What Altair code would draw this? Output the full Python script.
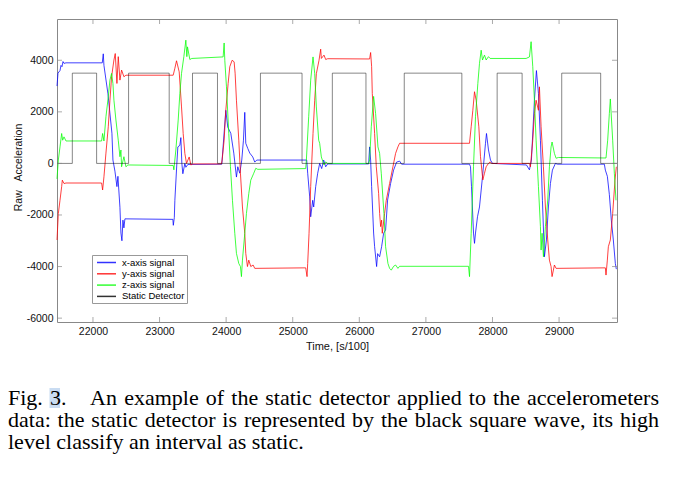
import altair as alt
import pandas as pd

# ---------------- data ----------------
SERIES = ["x-axis signal", "y-axis signal", "z-axis signal", "Static Detector"]
COLORS = ["#0000ff", "#ff0000", "#00ff00", "#000000"]

x_signal = [(21460, 3000), (21475, 3500), (21505, 3600), (21520, 3800), (21535, 3750), (21550, 3950),
            (21565, 3880), (21595, 3900), (22140, 3900), (22155, 4250), (22165, 3800), (22225, 2700),
            (22285, 1170), (22300, 130), (22330, -300), (22360, -900), (22375, -500), (22405, -1700),
            (22420, -2700), (22435, -3000), (22450, -2200), (22465, -2500), (22480, -2150), (23200, -2170),
            (23207, -2400), (23222, -2100), (23230, -1430), (23260, 0), (23275, 640), (23305, 700),
            (23320, 1000), (23335, 0), (23350, -400), (23380, 0), (23395, -150), (23425, -40),
            (23935, -30), (23995, 2060), (24025, 1400), (24070, 1170), (24115, 400), (24155, -530),
            (24175, -130), (24205, -380), (24235, 130), (24260, 900), (24280, 1980), (24295, 780),
            (24325, 580), (24355, 400), (24400, 250), (24430, 50), (24460, 130), (25210, 130),
            (25225, -380), (25255, -1300), (25270, -2070), (25300, -1430), (25315, -1690), (25345, -900),
            (25375, -380), (25405, 0), (25435, -200), (25465, 130), (25495, -130), (25525, -20),
            (26140, -20), (26155, 640), (26170, 130), (26185, -900), (26215, -2700), (26230, -3230),
            (26260, -4000), (26275, -3500), (26305, -3620), (26335, -3230), (26365, -2710), (26395, -2580),
            (26425, -1420), (26470, -780), (26515, -260), (26560, 50), (26605, 90), (26635, -30),
            (27655, -30), (27670, -130), (27685, -900), (27715, -2700), (27730, -3100), (27745, -2700),
            (27775, -2070), (27805, -1690), (27850, -520), (27895, 780), (27910, 1160), (27940, 520),
            (27970, 130), (28000, 0), (28510, -60), (28555, -250), (28585, 130), (28630, 2450),
            (28660, 3600), (28690, 2720), (28720, 900), (28750, -1430), (28780, -3620), (28810, -2970),
            (28840, -1690), (28870, -780), (28900, -260), (28945, 0), (28975, -30), (29680, -30),
            (29695, -260), (29725, -500), (29755, -1200), (29785, -2200), (29815, -2970), (29845, -3880),
            (29860, -4100)]

y_signal = [(21460, -2970), (21480, -1940), (21505, -1430), (21530, -900), (21540, -650), (21565, -780),
            (21595, -760), (22130, -760), (22145, -1030), (22165, -520), (22195, 400), (22230, 1420),
            (22255, 2450), (22280, 3360), (22315, 4010), (22335, 4260), (22360, 3100), (22380, 4140),
            (22405, 3230), (22430, 3620), (22465, 3360), (22495, 3420), (23205, 3420), (23230, 3690),
            (23255, 3980), (23295, 3550), (23330, 2190), (23355, 1160), (23380, 390), (23405, 0),
            (23445, 250), (23470, -60), (23500, -20), (23930, -20), (23940, 130), (23970, 900),
            (23995, 2060), (24030, 3100), (24055, 3750), (24090, 4000), (24120, 3940), (24135, 3500),
            (24155, 2450), (24190, 900), (24215, -380), (24245, -1690), (24280, -2710), (24295, -3490),
            (24320, -4000), (24340, -3750), (24370, -4000), (24405, -3940), (24430, -4070), (25195, -4050),
            (25215, -4390), (25225, -3880), (25245, -2710), (25270, -900), (25305, 1160), (25330, 2450),
            (25355, 3480), (25395, 4000), (25420, 4430), (25430, 4070), (25470, 4200), (25495, 4030),
            (25525, 4060), (26155, 4050), (26170, 4300), (26185, 3750), (26195, 2710), (26230, 1160),
            (26255, -130), (26290, -1160), (26305, -1940), (26320, -2450), (26335, -2200), (26345, -2710),
            (26380, -1940), (26405, -1430), (26455, -780), (26505, -130), (26545, 390), (26580, 640),
            (26605, 780), (27655, 780), (27680, 1420), (27705, 2060), (27730, 2780), (27755, 2450),
            (27795, 1420), (27820, 260), (27855, -640), (27880, -380), (27905, -130), (27940, 0),
            (27965, 60), (27985, 0), (28555, 0), (28570, -130), (28605, 900), (28630, 1930),
            (28655, 2450), (28690, 2060), (28705, 2970), (28730, 1420), (28765, -130), (28795, -1690),
            (28830, -2970), (28855, -3750), (28880, -4000), (28895, -4390), (28930, -3940), (28955, -4070),
            (29695, -4050), (29705, -4330), (29725, -3750), (29740, -3230), (29770, -2970), (29805, -1940),
            (29840, -650), (29860, -130)]

z_signal = [(21460, -600), (21480, 130), (21505, 640), (21530, 1160), (21545, 900), (21565, 1030),
            (21595, 870), (22130, 870), (22145, 1160), (22165, 870), (22195, 1810), (22230, 2580),
            (22255, 3230), (22280, 3490), (22300, 3100), (22315, 2450), (22345, 1680), (22380, 900),
            (22405, 260), (22420, 520), (22430, -130), (22465, 260), (22495, -130), (22525, -60),
            (23205, -80), (23215, -250), (23245, 520), (23280, 1680), (23305, 2710), (23330, 3490),
            (23365, 4140), (23395, 4780), (23410, 4140), (23420, 4520), (23455, 4030), (23485, 4070),
            (23955, 4130), (23970, 4670), (23980, 4000), (24005, 2970), (24040, 1160), (24065, -130),
            (24095, -1430), (24130, -2710), (24155, -3490), (24190, -3880), (24215, -4000), (24230, -4390),
            (24245, -3750), (24280, -2710), (24305, -1940), (24340, -1170), (24370, -650), (24415, -380),
            (24445, -190), (24475, -230), (25195, -200), (25205, 130), (25240, 1810), (25270, 3230),
            (25305, 4130), (25330, 3490), (25355, 2190), (25390, 900), (25405, 780), (25430, 250),
            (25470, -60), (25495, 60), (25525, 0), (26140, 0), (26155, 130), (26180, 1420),
            (26215, 2600), (26245, 1930), (26280, 640), (26305, 390), (26330, -380), (26370, -1940),
            (26395, -3230), (26430, -3880), (26455, -4070), (26480, -4140), (26515, -3990), (26545, -3940),
            (26580, -4070), (26605, -3990), (27640, -3990), (27655, -4390), (27680, -2710), (27715, -130),
            (27745, 1810), (27780, 3100), (27805, 3880), (27830, 4390), (27850, 4010), (27880, 4200),
            (27905, 4010), (27940, 4140), (27965, 4070), (28505, 4070), (28555, 4130), (28580, 4720),
            (28605, 3750), (28630, 2450), (28655, 900), (28690, -900), (28720, -2450), (28730, -3360),
            (28745, -2710), (28765, -3620), (28795, -2450), (28830, -1420), (28855, -130), (28880, 640),
            (28895, 830), (28930, 390), (28955, 200), (28990, 230), (29705, 210), (29730, 900),
            (29755, 1930), (29770, 2500), (29805, 900), (29830, -380), (29855, -1430)]

static_edges = [21690, 22055, 22535, 23145, 23495, 23870, 24515, 25140,
                25595, 26100, 26675, 27540, 28070, 28445, 29040, 29625]
static_high = 3500

x_ticks = [22000, 23000, 24000, 25000, 26000, 27000, 28000, 29000]
y_ticks = [-6000, -4000, -2000, 0, 2000, 4000]
X_DOMAIN = [21460, 29870]
Y_DOMAIN = [-6150, 5600]

caption_lines = [
    "Fig. 3. An example of the static detector applied to the accelerometers",
    "data: the static detector is represented by the black square wave, its high",
    "level classify an interval as static.",
]

# ---------------- tables ----------------
rows = []
for name, pts in zip(SERIES[:3], [x_signal, y_signal, z_signal]):
    for i, (t, v) in enumerate(pts):
        rows.append({"series": name, "t": t, "v": v, "idx": i})
df_sig = pd.DataFrame(rows)

spts = [(X_DOMAIN[0], 0)]
level = 0
for e in static_edges:
    spts.append((e, level))
    level = static_high - level
    spts.append((e, level))
spts.append((X_DOMAIN[1], level))
df_static = pd.DataFrame([{"series": SERIES[3], "t": t, "v": v, "idx": i}
                          for i, (t, v) in enumerate(spts)])

# caption layout (Times metrics, justified lines)
CW = {'a': 444, 'b': 500, 'c': 444, 'd': 500, 'e': 444, 'f': 333, 'g': 500, 'h': 500, 'i': 278,
      'j': 278, 'k': 500, 'l': 278, 'm': 778, 'n': 500, 'o': 500, 'p': 500, 'q': 500, 'r': 333,
      's': 389, 't': 278, 'u': 500, 'v': 500, 'w': 722, 'x': 500, 'y': 500, 'z': 444, 'F': 556,
      'A': 722, '3': 500, '.': 250, ':': 278, ',': 250}
FS = 22
LEFT, RIGHT = -49, 602
BASES = [386, 408, 430]


def wwidth(w):
    return sum(CW.get(c, 500) for c in w) * FS / 1000.0


cap_rows = []
for li, line in enumerate(caption_lines):
    words = line.split()
    gaps = [0.25 * FS] * (len(words) - 1)
    if li == 0:
        gaps[1] = 1.0 * FS
    justify = li < 2
    total = sum(wwidth(w) for w in words)
    extra = 0.0
    if justify:
        extra = (RIGHT - LEFT - total - sum(gaps)) / len(gaps)
    x = LEFT
    for wi, w in enumerate(words):
        cap_rows.append({"w": w, "px": x, "py": BASES[li]})
        x += wwidth(w)
        if wi < len(gaps):
            x += gaps[wi] + extra
df_cap = pd.DataFrame(cap_rows)
hl = df_cap.iloc[1]

# ---------------- chart ----------------
FONT = "Liberation Sans"
xs = alt.Scale(domain=X_DOMAIN, nice=False, zero=False)
ys = alt.Scale(domain=Y_DOMAIN, nice=False, zero=False)
cs = alt.Scale(domain=SERIES, range=COLORS)

xaxis = alt.Axis(values=x_ticks, labelExpr="toString(datum.value)", tickSize=0, domain=False,
                 grid=False, title="Time, [s/100]", labelFontSize=10.5, titleFontSize=11,
                 labelPadding=4, titlePadding=4, labelColor="#111", titleColor="#111",
                 titleFontWeight="normal", labelFont=FONT, titleFont=FONT)
yaxis = alt.Axis(values=y_ticks, labelExpr="toString(datum.value)", tickSize=0, domain=False,
                 grid=False, title="Raw\u00a0\u00a0\u00a0Acceleration", labelFontSize=10.5,
                 titleFontSize=10.5, labelPadding=4, titlePadding=3, labelColor="#111",
                 titleColor="#111", titleFontWeight="normal", labelFont=FONT, titleFont=FONT,
                 titleY=148)

legend = alt.Legend(title=None, orient="none", legendX=35, legendY=236,
                    symbolType="M-0.56,0H3.67", symbolSize=81, symbolStrokeWidth=1.5,
                    symbolOpacity=0.45, labelFontSize=9.5, labelFont=FONT, labelOffset=17,
                    padding=2, rowPadding=1.3, strokeColor="#999", fillColor="white",
                    labelColor="black", cornerRadius=0)

signals = alt.Chart(df_sig).mark_line(strokeWidth=0.75).encode(
    x=alt.X("t:Q", scale=xs, axis=xaxis),
    y=alt.Y("v:Q", scale=ys, axis=yaxis),
    color=alt.Color("series:N", scale=cs, legend=legend),
    order="idx:Q",
)
static = alt.Chart(df_static).mark_line(strokeWidth=0.6, opacity=0.8).encode(
    x=alt.X("t:Q", scale=xs),
    y=alt.Y("v:Q", scale=ys),
    color=alt.Color("series:N", scale=cs),
    order="idx:Q",
)

df_yt = pd.DataFrame({"v": y_ticks})
df_xt = pd.DataFrame({"t": x_ticks})
tick_style = dict(size=5, thickness=1, color="#888")
left_ticks = alt.Chart(df_yt).mark_tick(orient="horizontal", **tick_style).encode(
    y=alt.Y("v:Q", scale=ys), x=alt.value(2.5))
right_ticks = alt.Chart(df_yt).mark_tick(orient="horizontal", **tick_style).encode(
    y=alt.Y("v:Q", scale=ys), x=alt.value(557.5))
bottom_ticks = alt.Chart(df_xt).mark_tick(orient="vertical", **tick_style).encode(
    x=alt.X("t:Q", scale=xs), y=alt.value(300.5))
top_ticks = alt.Chart(df_xt).mark_tick(orient="vertical", **tick_style).encode(
    x=alt.X("t:Q", scale=xs), y=alt.value(2.5))

highlight = alt.Chart(pd.DataFrame({"k": [0]})).mark_rect(color="#c9dcf2").encode(
    x=alt.value(float(hl["px"]) - 0.5), x2=alt.value(float(hl["px"]) + 10),
    y=alt.value(369), y2=alt.value(389))

caption = alt.Chart(df_cap).mark_text(align="left", baseline="alphabetic",
                                      font="Liberation Serif", fontSize=FS, color="black").encode(
    x=alt.X("px:Q", scale=None),
    y=alt.Y("py:Q", scale=None),
    text="w:N",
)

chart = alt.layer(
    signals, static, left_ticks, right_ticks, bottom_ticks, top_ticks, highlight, caption
).properties(
    width=560, height=303,
    autosize=alt.AutoSizeParams(type="none"),
    padding={"left": 49, "top": 11, "right": 56, "bottom": 135},
).configure_view(stroke="#888", strokeWidth=1)

chart.save("out.html", embed_options={"renderer": "svg", "actions": False})
